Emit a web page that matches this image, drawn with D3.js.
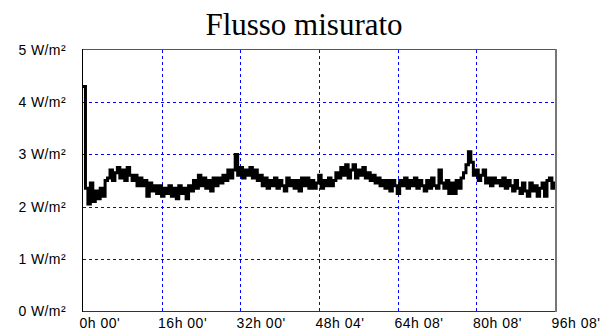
<!DOCTYPE html>
<html>
<head>
<meta charset="utf-8">
<script src="https://cdn.jsdelivr.net/npm/d3@7"></script>
<style>
  html, body { margin: 0; padding: 0; background: #fff; }
  svg { display: block; }
</style>
</head>
<body>
<svg id="chart" width="601" height="336"></svg>
<script>
// Measured flux, one reading every half hour (W/m²)
const sampleStepHours = 0.5;
const flux = [
  4.3, 2.35, 2.05, 2.45, 2.1, 2.3, 2.15, 2.35, 2.2, 2.5,
  2.55, 2.7, 2.5, 2.65, 2.75, 2.55, 2.7, 2.5, 2.75, 2.6,
  2.5, 2.6, 2.4, 2.55, 2.4, 2.5, 2.2, 2.45, 2.3, 2.4,
  2.25, 2.4, 2.2, 2.35, 2.25, 2.4, 2.2, 2.35, 2.15, 2.4,
  2.25, 2.35, 2.15, 2.4, 2.3, 2.5, 2.35, 2.6, 2.4, 2.55,
  2.35, 2.5, 2.3, 2.55, 2.4, 2.55, 2.45, 2.6, 2.5, 2.7,
  2.55, 2.7, 3.0, 2.6, 2.75, 2.55, 2.7, 2.6, 2.75, 2.55,
  2.7, 2.5, 2.6, 2.4, 2.55, 2.35, 2.5, 2.4, 2.55, 2.35,
  2.5, 2.4, 2.3, 2.55, 2.4, 2.5, 2.35, 2.5, 2.3, 2.55,
  2.4, 2.55, 2.35, 2.5, 2.35, 2.45, 2.6, 2.35, 2.5, 2.4,
  2.55, 2.4, 2.5, 2.65, 2.55, 2.75, 2.6, 2.8, 2.55, 2.7,
  2.8, 2.55, 2.7, 2.6, 2.75, 2.55, 2.65, 2.5, 2.6, 2.45,
  2.55, 2.4, 2.5, 2.35, 2.5, 2.3, 2.5, 2.4, 2.25, 2.5,
  2.4, 2.55, 2.35, 2.5, 2.4, 2.55, 2.35, 2.5, 2.4, 2.3,
  2.5, 2.35, 2.55, 2.4, 2.35, 2.7, 2.45, 2.35, 2.5, 2.25,
  2.45, 2.25, 2.5, 2.35, 2.55, 2.65, 2.8, 3.05, 2.85, 2.6,
  2.7, 2.5, 2.6, 2.7, 2.45, 2.55, 2.4, 2.55, 2.45, 2.5,
  2.4, 2.55, 2.35, 2.5, 2.4, 2.3, 2.5, 2.35, 2.25, 2.45,
  2.3, 2.2, 2.45, 2.3, 2.4, 2.2, 2.35, 2.45, 2.2, 2.5,
  2.55, 2.35, 2.45
];

// Time axis: tick positions in hours and their labels
const timeTicks = [0, 16, 32, 48 + 4 / 60, 64 + 8 / 60, 80 + 8 / 60, 96 + 8 / 60];
const timeLabels = ["0h 00'", "16h 00'", "32h 00'", "48h 04'", "64h 08'", "80h 08'", "96h 08'"];

// Flux axis ticks
const fluxTicks = [0, 1, 2, 3, 4, 5];
const fluxLabels = ["0 W/m²", "1 W/m²", "2 W/m²", "3 W/m²", "4 W/m²", "5 W/m²"];

const title = "Flusso misurato";

const svg = d3.select("#chart");
const plot = { left: 83, right: 555, top: 50, bottom: 311 };

const x = d3.scaleLinear()
  .domain([0, timeTicks[timeTicks.length - 1]])
  .range([plot.left, plot.right]);
const y = d3.scaleLinear()
  .domain([0, 5])
  .range([plot.bottom, plot.top]);

// Title
svg.append("text")
  .attr("x", 304)
  .attr("y", 35)
  .attr("text-anchor", "middle")
  .attr("font-family", "'Liberation Serif', 'Times New Roman', serif")
  .attr("font-size", 31)
  .attr("fill", "#000")
  .text(title);

// Grid lines
const grid = svg.append("g").attr("stroke", "#0000ff").attr("stroke-width", 1)
  .attr("stroke-dasharray", "3,3").attr("shape-rendering", "crispEdges");
grid.selectAll("line.h")
  .data(fluxTicks.slice(1, -1))
  .join("line")
  .attr("class", "h")
  .attr("x1", plot.left).attr("x2", plot.right)
  .attr("y1", d => Math.round(y(d)) + 0.5).attr("y2", d => Math.round(y(d)) + 0.5);
grid.selectAll("line.v")
  .data(timeTicks.slice(1, -1))
  .join("line")
  .attr("class", "v")
  .attr("x1", d => Math.round(x(d)) + 0.5).attr("x2", d => Math.round(x(d)) + 0.5)
  .attr("y1", plot.top).attr("y2", plot.bottom);

const labelFont = "'Liberation Sans', Arial, sans-serif";

// Flux axis (labels only)
const yAxis = d3.axisLeft(y)
  .tickValues(fluxTicks)
  .tickFormat((d, i) => fluxLabels[i])
  .tickSize(0)
  .tickPadding(17);
const yg = svg.append("g")
  .attr("transform", `translate(${plot.left},0)`)
  .call(yAxis);
yg.select(".domain").remove();
yg.selectAll("text")
  .attr("font-family", labelFont)
  .attr("font-size", 14)
  .attr("letter-spacing", 0.4)
  .attr("fill", "#000");

// Time axis (labels only, left-aligned at the tick)
const xAxis = d3.axisBottom(x)
  .tickValues(timeTicks)
  .tickFormat((d, i) => timeLabels[i])
  .tickSize(0)
  .tickPadding(7);
const xg = svg.append("g")
  .attr("transform", `translate(0,${plot.bottom})`)
  .call(xAxis);
xg.select(".domain").remove();
xg.selectAll("text")
  .attr("text-anchor", "start")
  .attr("dx", -4)
  .attr("font-family", labelFont)
  .attr("font-size", 14)
  .attr("letter-spacing", 0.5)
  .attr("fill", "#000");

// Data line
const points = flux.map((v, i) => [i * sampleStepHours, v]);
points.push([timeTicks[timeTicks.length - 1], flux[flux.length - 1]]);
const line = d3.line()
  .x(d => x(d[0]))
  .y(d => y(d[1]))
  .curve(d3.curveStepAfter);
svg.append("path")
  .datum(points)
  .attr("fill", "none")
  .attr("stroke", "#000")
  .attr("stroke-width", 3)
  .attr("d", line);

// Plot frame
const frame = svg.append("g").attr("shape-rendering", "crispEdges");
frame.append("line").attr("x1", plot.left).attr("x2", plot.right)
  .attr("y1", plot.top - 0.5).attr("y2", plot.top - 0.5).attr("stroke", "#555");
frame.append("line").attr("x1", plot.left - 0.5).attr("x2", plot.left - 0.5)
  .attr("y1", plot.top - 1).attr("y2", plot.bottom + 1).attr("stroke", "#000");
frame.append("line").attr("x1", plot.left).attr("x2", plot.right + 1)
  .attr("y1", plot.bottom + 0.5).attr("y2", plot.bottom + 0.5).attr("stroke", "#333");
frame.append("line").attr("x1", plot.right + 1).attr("x2", plot.right + 1)
  .attr("y1", plot.top - 1).attr("y2", plot.bottom + 1).attr("stroke", "#777").attr("stroke-width", 2);
</script>
</body>
</html>
